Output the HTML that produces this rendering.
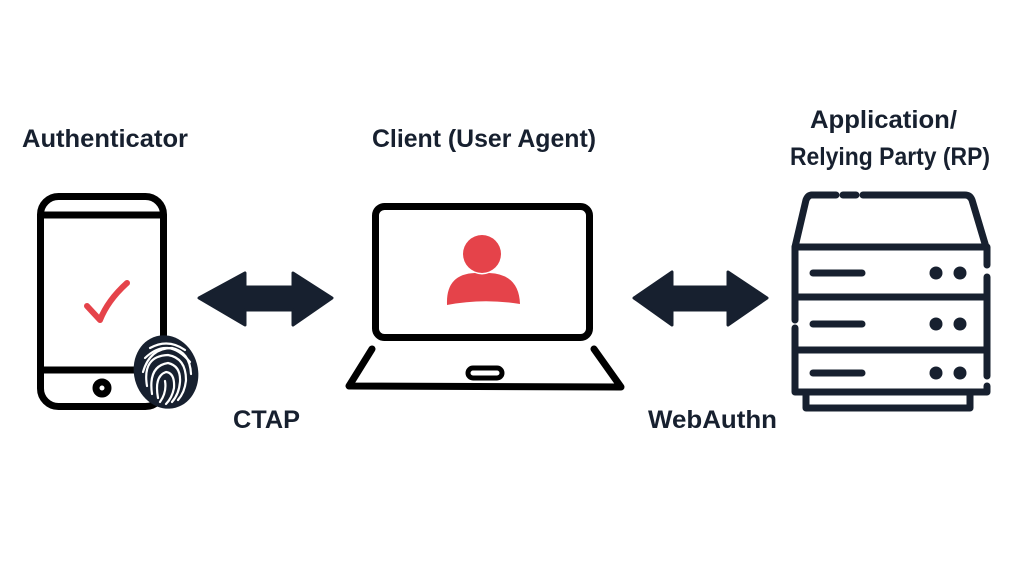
<!DOCTYPE html>
<html><head><meta charset="utf-8"><style>
html,body{margin:0;padding:0;background:#fff;}
svg{display:block}
text{font-family:"Liberation Sans",sans-serif;font-weight:bold;fill:#17202f;font-size:25px}
</style></head><body>
<svg width="1024" height="576" viewBox="0 0 1024 576" xmlns="http://www.w3.org/2000/svg">
<text x="22" y="147" textLength="166" lengthAdjust="spacingAndGlyphs">Authenticator</text>
<text x="372" y="147" textLength="224" lengthAdjust="spacingAndGlyphs">Client (User Agent)</text>
<text x="810" y="128" textLength="147" lengthAdjust="spacingAndGlyphs">Application/</text>
<text x="790" y="165" textLength="200" lengthAdjust="spacingAndGlyphs">Relying Party (RP)</text>
<text x="233" y="428" textLength="67" lengthAdjust="spacingAndGlyphs">CTAP</text>
<text x="648" y="428" textLength="129" lengthAdjust="spacingAndGlyphs">WebAuthn</text>

<g fill="none" stroke="#000" stroke-width="7">
<rect x="40.5" y="196.5" width="123" height="210" rx="18"/>
<line x1="40" y1="215" x2="164" y2="215"/>
<line x1="40" y1="370" x2="164" y2="370"/>
<circle cx="102" cy="388" r="6"/>
</g>
<path d="M87 306 L100 320 Q108 300 127 283" fill="none" stroke="#e5434a" stroke-width="6" stroke-linecap="round" stroke-linejoin="round"/>
<ellipse cx="166" cy="372" rx="32" ry="37" transform="rotate(-15 166 372)" fill="#17202f"/>
<g fill="none" stroke="#fff" stroke-width="2.2" stroke-linecap="round">
<path d="M150 348 Q168 338 185 350"/>
<path d="M145 358 Q168 336 190 362"/>
<path d="M143 372 Q150 348 172 348 Q190 352 191 374"/>
<path d="M147 386 Q142 356 168 355 Q186 358 186 380 Q185 392 178 400"/>
<path d="M152 394 Q148 366 168 363 Q181 366 180 382 Q179 394 172 402"/>
<path d="M158 398 Q154 376 166 372 Q175 373 174 388 Q172 398 166 404"/>
<path d="M165 381 Q167 392 160 402"/>
</g>

<path d="M199 298 L245 273 L245 287 L293 287 L293 273 L332 298 L293 325 L293 310 L245 310 L245 325 Z" fill="#17202f" stroke="#17202f" stroke-width="3" stroke-linejoin="round"/>
<path d="M634 298 L672 272 L672 287 L728 287 L728 272 L767 298 L728 325 L728 310 L672 310 L672 325 Z" fill="#17202f" stroke="#17202f" stroke-width="3" stroke-linejoin="round"/>

<g fill="none" stroke="#000" stroke-width="7" stroke-linecap="round" stroke-linejoin="round">
<rect x="375.5" y="206.5" width="214" height="131" rx="9"/>
<path d="M372 349 L349 386 L621 387 L594 349"/>
<rect x="468" y="368" width="34" height="10" rx="5" stroke-width="5"/>
</g>
<circle cx="482" cy="254" r="19" fill="#e5434a"/>
<path d="M447 304 Q446 274 475 273 Q482 276 489 273 Q519 274 520 304 Q483 298 447 305 Z" fill="#e5434a"/>

<g fill="none" stroke="#17202f" stroke-width="7" stroke-linecap="round" stroke-linejoin="round">
<path d="M812 195 L836 195 M843 195 L856 195 M863 195 L965 195 Q970 195 972 200 L986 247"/>
<path d="M812 195 Q808 195 806 200 L795 247"/>
<path d="M795 247 L987 247 L987 265 M987 277 L987 376 M987 386 L987 392 L795 392 L795 328 M795 320 L795 247"/>
<line x1="795" y1="297" x2="987" y2="297"/>
<line x1="795" y1="350" x2="987" y2="350"/>
<path d="M806 392 L806 408 L970 408 L970 392"/>
<line x1="813" y1="273" x2="862" y2="273"/>
<line x1="813" y1="324" x2="862" y2="324"/>
<line x1="813" y1="373" x2="862" y2="373"/>
</g>
<g fill="#17202f">
<circle cx="936" cy="273" r="6.5"/><circle cx="960" cy="273" r="6.5"/>
<circle cx="936" cy="324" r="6.5"/><circle cx="960" cy="324" r="6.5"/>
<circle cx="936" cy="373" r="6.5"/><circle cx="960" cy="373" r="6.5"/>
</g>
</svg>
</body></html>
